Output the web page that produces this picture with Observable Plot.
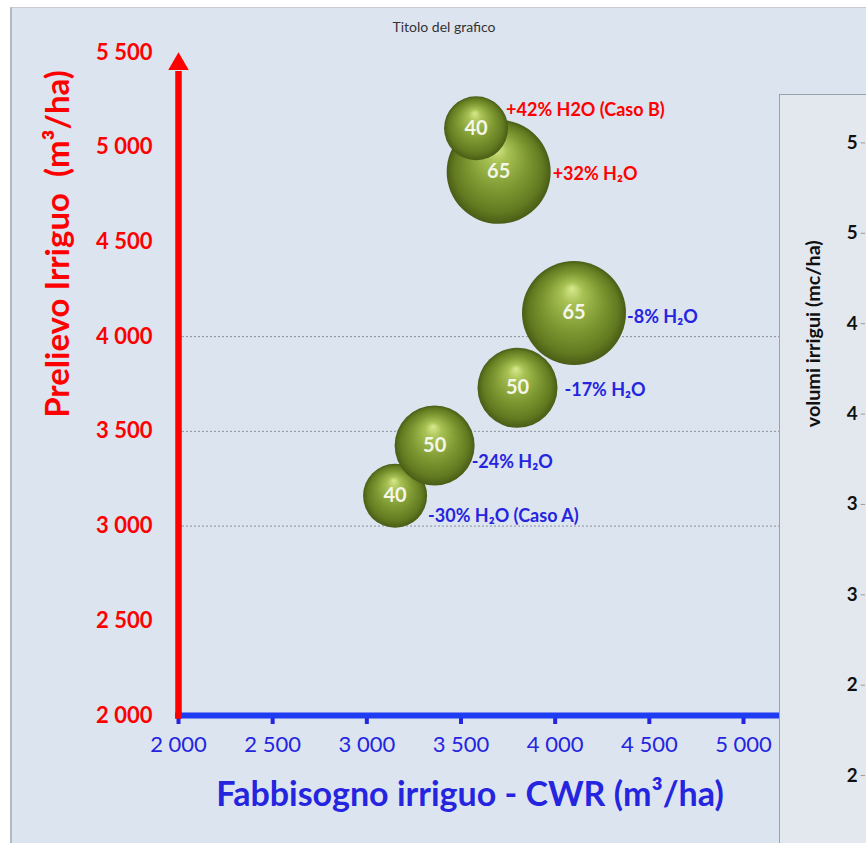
<!DOCTYPE html>
<html><head><meta charset="utf-8">
<script src="https://cdn.jsdelivr.net/npm/d3@7"></script>
<script src="https://cdn.jsdelivr.net/npm/@observablehq/plot@0.6"></script>
<style>
html,body{margin:0;padding:0;background:#fff;}
#wrap{position:relative;width:866px;height:843px;overflow:hidden;background:#fff;font-family:Lato,"Open Sans",sans-serif;}
#bg{position:absolute;left:10px;top:7px;right:0;bottom:0;background:#dce4f0;border-left:2px solid #b5bac2;border-top:1px solid #c8ccd2;}
#main{position:absolute;left:0;top:0;}
#main text{white-space:pre;}
#side{position:absolute;left:779px;top:94px;width:87px;height:749px;background:#e3e8ef;border-left:1px solid #9aa3ad;border-top:1px solid #9aa3ad;box-sizing:border-box;}
#side svg{position:absolute;left:-1px;top:-1px;}
</style></head><body>
<div id="wrap"><div id="bg"></div><div id="main"></div><div id="side"></div></div>
<script>
// ---- data ----
const cwr = [3150, 3360, 3800, 4100, 3700, 3580];
const prelievo = [3160, 3425, 3730, 4125, 4870, 5100];
const sizes = [40, 50, 50, 65, 65, 40];
const pointLabels = ["-30% H₂O (Caso A)", "-24% H₂O", "-17% H₂O", "-8% H₂O", "+32% H₂O", "+42% H2O (Caso B)"];
const xTicks = [2000, 2500, 3000, 3500, 4000, 4500, 5000];
const yTicks = [2000, 2500, 3000, 3500, 4000, 4500, 5000, 5500];
const gridValues = [3000, 3500, 4000];
const sideTicks = [2000, 2500, 3000, 3500, 4000, 4500, 5000, 5500];
const sideTickLabels = ["2", "2", "3", "3", "4", "4", "5", "5"];
const titleText = "Titolo del grafico";
const xLabel = "Fabbisogno irriguo - CWR (m³/ha)";
const yLabel = "Prelievo Irriguo  (m³/ha)";
const sideLabel = "volumi irrigui (mc/ha)";

const points = cwr.map((x, i) => ({x, y: prelievo[i], size: sizes[i], label: pointLabels[i]}));

// ---- styling / layout ----
const RED = "#ff0000", BLUE = "#2525e0", BLUE_LINE = "#1f3cf2";
const FONT = "Lato, 'Open Sans', sans-serif";
const rMax = 52;
const rPx = v => v * rMax / 65;
const labelLayout = [
  {dx: 1, dy: 20, color: BLUE}, {dx: -3, dy: 17, color: BLUE}, {dx: 7, dy: 2, color: BLUE},
  {dx: 1, dy: 4, color: BLUE}, {dx: 2, dy: 2, color: RED}, {dx: -2, dy: -18, color: RED}
];
const fmt = d => d3.format(",")(d).replace(/,/g, " ");

const labelMarks = points.map((d, i) => Plot.text([d], {
  x: "x", y: "y", text: "label", textAnchor: "start",
  dx: rPx(d.size) + labelLayout[i].dx, dy: labelLayout[i].dy,
  fill: labelLayout[i].color, fontWeight: "bold", fontSize: 18, fontFamily: FONT
}));

const chart = Plot.plot({
  width: 866, height: 843,
  marginLeft: 178, marginRight: 123, marginTop: 52, marginBottom: 128,
  style: {background: "transparent", fontFamily: FONT, overflow: "visible"},
  x: {domain: [2000, 5000]},
  y: {domain: [2000, 5500]},
  r: {type: "linear", domain: [0, 65], range: [0, rMax]},
  marks: [
    Plot.ruleY(gridValues, {x1: 2000, x2: 5250, stroke: "#8a9099", strokeDasharray: "2 2", strokeWidth: 1}),
    Plot.axisX(xTicks, {tickSize: 9, tickPadding: 12, strokeWidth: 4, color: BLUE, fontSize: 22, tickFormat: fmt, label: null, fontFamily: FONT}),
    Plot.ruleY([2000], {x1: 1985, x2: 5200, stroke: BLUE_LINE, strokeWidth: 6}),
    Plot.axisY(yTicks, {tickSize: 0, tickPadding: 26, color: RED, fontSize: 22, fontWeight: "bold", tickFormat: fmt, label: null, fontFamily: FONT}),
    Plot.ruleX([2000], {y1: 1980, y2: 5400, stroke: RED, strokeWidth: 6.5}),
    Plot.dot([{x: 2000, y: 5500}], {x: "x", y: "y", symbol: "triangle", r: 7.6, fill: RED, dy: 11.5}),
    Plot.dot(points, {x: "x", y: "y", r: "size", fill: "url(#sphere)", sort: null}),
    Plot.text(points, {x: "x", y: "y", text: d => String(d.size), fill: "#f4f6ea", fontSize: 20, fontWeight: "bold", fontFamily: FONT}),
    ...labelMarks,
    Plot.text([yLabel], {frameAnchor: "left", textAnchor: "middle", lineAnchor: "middle", rotate: -90, dx: -120, dy: -140, fill: RED, fontSize: 33, fontWeight: "bold", fontFamily: FONT}),
    Plot.text([xLabel], {frameAnchor: "bottom", textAnchor: "middle", lineAnchor: "middle", dx: 9, dy: 80, fill: BLUE, fontSize: 34, fontWeight: "bold", fontFamily: FONT}),
    Plot.text([titleText], {frameAnchor: "top", textAnchor: "middle", lineAnchor: "middle", dx: -17, dy: -25, fill: "#333", fontSize: 14, fontFamily: FONT})
  ]
});

d3.select(chart).insert("defs", ":first-child").html(`
  <radialGradient id="sphere" cx="50%" cy="50%" r="50%" fx="48%" fy="26%">
    <stop offset="0%" stop-color="#d9ea8e"/>
    <stop offset="20%" stop-color="#a9c255"/>
    <stop offset="55%" stop-color="#7f9a33"/>
    <stop offset="85%" stop-color="#627a20"/>
    <stop offset="100%" stop-color="#4a5c16"/>
  </radialGradient>`);
document.getElementById("main").appendChild(chart);

const side = Plot.plot({
  width: 87, height: 749,
  marginLeft: 0, marginRight: 0, marginTop: 49, marginBottom: 60,
  style: {background: "transparent", fontFamily: FONT},
  x: {domain: [0, 1], axis: null},
  y: {domain: [2000, 5500], axis: null},
  marks: [
    Plot.text(sideTicks, {y: d => d, text: (d, i) => sideTickLabels[i], frameAnchor: "right", textAnchor: "end", dx: -8, fill: "#111", fontSize: 19, fontWeight: "bold", fontFamily: FONT}),
    Plot.ruleY(sideTicks, {x1: 0.95, x2: 1, stroke: "#999", strokeWidth: 1}),
    Plot.text([sideLabel], {frameAnchor: "left", textAnchor: "middle", lineAnchor: "middle", rotate: -90, dx: 35, dy: -127, fill: "#111", fontSize: 20, fontWeight: "bold", fontFamily: FONT})
  ]
});
document.getElementById("side").appendChild(side);
</script>
</body></html>
